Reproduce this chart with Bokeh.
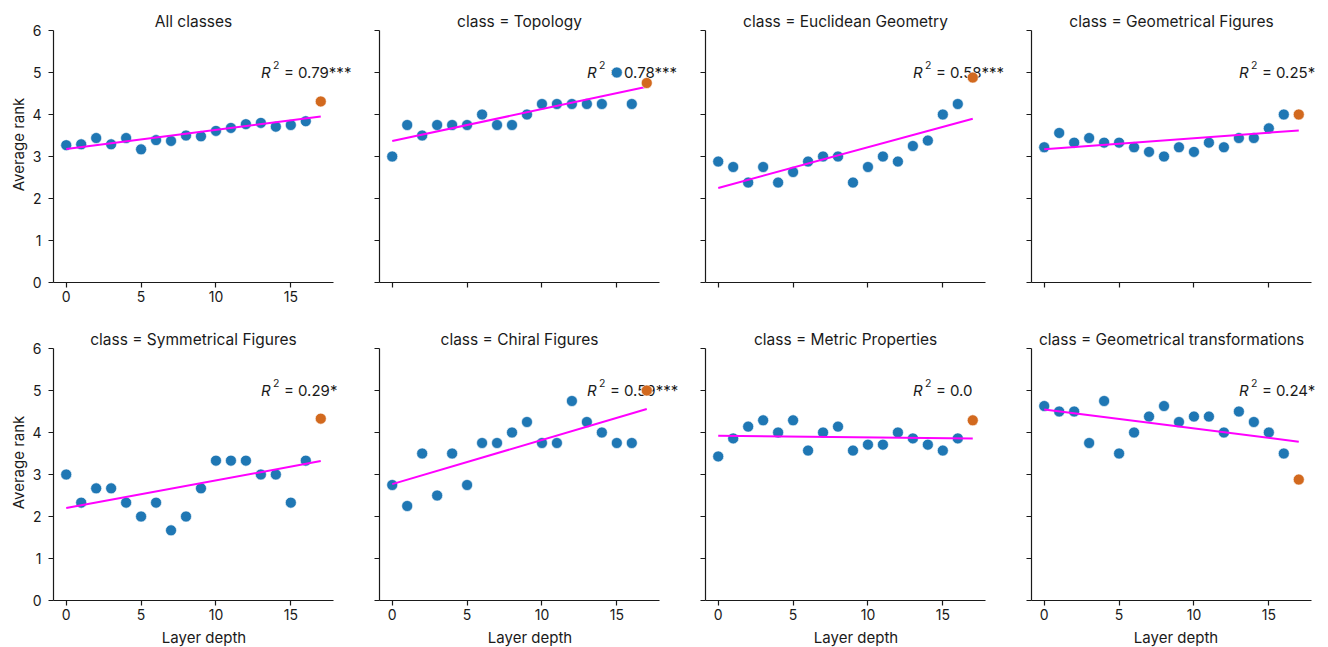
from bokeh.plotting import figure
from bokeh.layouts import gridplot
from bokeh.models import Range1d
from bokeh.core.properties import value
from bokeh.embed import file_html
from bokeh.resources import INLINE

# ---------------- data ----------------
layers = list(range(18))  # layer depth 0..17 (17 = last layer, highlighted)

titles = [
    "All classes",
    "class = Topology",
    "class = Euclidean Geometry",
    "class = Geometrical Figures",
    "class = Symmetrical Figures",
    "class = Chiral Figures",
    "class = Metric Properties",
    "class = Geometrical transformations",
]

rank_all = [3.27, 3.29, 3.44, 3.29, 3.44, 3.17, 3.39, 3.37, 3.50, 3.48,
            3.61, 3.68, 3.77, 3.80, 3.71, 3.75, 3.84, 4.31]
rank_topology = [3.0, 3.75, 3.5, 3.75, 3.75, 3.75, 4.0, 3.75, 3.75, 4.0,
                 4.25, 4.25, 4.25, 4.25, 4.25, 5.0, 4.25, 4.75]
rank_euclid = [2.88, 2.75, 2.38, 2.75, 2.38, 2.63, 2.88, 3.0, 3.0, 2.38,
               2.75, 3.0, 2.88, 3.25, 3.38, 4.0, 4.25, 4.88]
rank_geomfig = [3.22, 3.56, 3.33, 3.44, 3.33, 3.33, 3.22, 3.11, 3.0, 3.22,
                3.11, 3.33, 3.22, 3.44, 3.44, 3.67, 4.0, 4.0]
rank_symm = [3.0, 2.33, 2.67, 2.67, 2.33, 2.0, 2.33, 1.67, 2.0, 2.67,
             3.33, 3.33, 3.33, 3.0, 3.0, 2.33, 3.33, 4.33]
rank_chiral = [2.75, 2.25, 3.5, 2.5, 3.5, 2.75, 3.75, 3.75, 4.0, 4.25,
               3.75, 3.75, 4.75, 4.25, 4.0, 3.75, 3.75, 5.0]
rank_metric = [3.43, 3.86, 4.14, 4.29, 4.0, 4.29, 3.57, 4.0, 4.14, 3.57,
               3.71, 3.71, 4.0, 3.86, 3.71, 3.57, 3.86, 4.29]
rank_transf = [4.63, 4.5, 4.5, 3.75, 4.75, 3.5, 4.0, 4.38, 4.63, 4.25,
               4.38, 4.38, 4.0, 4.5, 4.25, 4.0, 3.5, 2.88]

ranks = [rank_all, rank_topology, rank_euclid, rank_geomfig,
         rank_symm, rank_chiral, rank_metric, rank_transf]

# regression line values read at layer 0 and layer 17
fit_start = [3.18, 3.37, 2.25, 3.17, 2.20, 2.77, 3.92, 4.55]
fit_end = [3.95, 4.66, 3.90, 3.62, 3.32, 4.56, 3.86, 3.78]

r2_values = ["0.79***", "0.78***", "0.58***", "0.25*",
             "0.29*", "0.59***", "0.0", "0.24*"]
r2_x = 13
r2_y = 5

x_ticks = [0, 5, 10, 15]
y_ticks = [0, 1, 2, 3, 4, 5, 6]

# ---------------- style / layout ----------------
FONT = "Inter"
BLUE = "#1f77b4"
ORANGE = "#d2691e"
MAGENTA = "#ff00ff"
INK = "#1a1a1a"

X0, X1 = -0.85, 17.85      # visible x-axis extent
Y0, Y1 = 0, 6              # visible y-axis extent
AXIS_W = 280               # pixel length of the x axis
AXIS_H = 252               # pixel length of the y axis
PXU_X = AXIS_W / (X1 - X0)
PXU_Y = AXIS_H / (Y1 - Y0)
TOP_EXTRA = 24             # frame room above the y axis (panel title)


def make_panel(i, row, col):
    left = 53 if col == 0 else 25
    extra = 9 if col == 3 else 21          # frame room right of the axis
    top = 6 if row == 0 else 0
    bottom = 42 if row == 0 else 44
    fw = AXIS_W + extra
    fh = AXIS_H + TOP_EXTRA
    p = figure(frame_width=fw, frame_height=fh,
               x_range=Range1d(X0, X0 + fw / PXU_X),
               y_range=Range1d(Y0, Y0 + fh / PXU_Y),
               toolbar_location=None, output_backend="svg",
               min_border_left=left, min_border_right=0,
               min_border_top=top, min_border_bottom=bottom)
    p.outline_line_color = None
    p.xgrid.visible = False
    p.ygrid.visible = False
    p.background_fill_color = "white"
    p.border_fill_color = "white"

    for ax, ticks in ((p.xaxis, x_ticks), (p.yaxis, y_ticks)):
        ax.ticker = ticks
        ax.axis_line_color = INK
        ax.axis_line_width = 1.2
        ax.major_tick_line_color = INK
        ax.major_tick_line_width = 1.2
        ax.major_tick_out = 5
        ax.major_tick_in = 0
        ax.minor_tick_line_color = None
        ax.major_label_text_font = FONT
        ax.major_label_text_font_size = "14px"
        ax.major_label_text_color = INK
        ax.axis_label_text_font = FONT
        ax.axis_label_text_font_size = "15px"
        ax.axis_label_text_font_style = "normal"
        ax.axis_label_text_color = INK
    p.xaxis.bounds = (X0, X1)
    p.yaxis.bounds = (Y0, Y1)
    p.xaxis.major_label_standoff = 3
    p.yaxis.major_label_standoff = 7

    if col == 0:
        p.yaxis.axis_label = "Average rank"
        p.yaxis.axis_label_standoff = 1
    else:
        p.yaxis.major_label_overrides = {t: "" for t in y_ticks}

    if row == 1:
        p.xaxis.axis_label = "Layer depth"
        p.xaxis.axis_label_standoff = 5
    elif col != 0:
        p.xaxis.major_label_overrides = {t: "" for t in x_ticks}

    # panel title, centred over the axis
    p.text(x=[(X0 + X1) / 2], y=[Y1], text=[titles[i]], text_font=value(FONT),
           text_font_size="15.5px", text_color=INK, text_align="center",
           text_baseline="alphabetic", y_offset=-9)

    # R^2 annotation: italic R, superscript 2, then value (drawn under the dots)
    p.text(x=[r2_x], y=[r2_y], text=["R"], text_font=value(FONT),
           text_font_size="15px", text_font_style="italic",
           text_color=INK, text_baseline="alphabetic")
    p.text(x=[r2_x], y=[r2_y], text=["2"], text_font=value(FONT),
           text_font_size="10.5px", text_color=INK,
           text_baseline="alphabetic", x_offset=12, y_offset=-8)
    p.text(x=[r2_x], y=[r2_y], text=["= " + r2_values[i]],
           text_font=value(FONT), text_font_size="15px", text_color=INK,
           text_baseline="alphabetic", x_offset=23)

    vals = ranks[i]
    p.scatter(layers[:-1], vals[:-1], size=11, fill_color=BLUE,
              line_color="white", line_width=0.6)
    p.line([layers[0], layers[-1]], [fit_start[i], fit_end[i]],
           line_color=MAGENTA, line_width=2)
    p.scatter([layers[-1]], [vals[-1]], size=11, fill_color=ORANGE,
              line_color="white", line_width=0.6)
    return p


panels = []
for i in range(8):
    row, col = divmod(i, 4)
    panels.append(make_panel(i, row, col))

grid = gridplot([panels[:4], panels[4:]], toolbar_location=None)

open("out.html", "w").write(file_html(grid, INLINE))
